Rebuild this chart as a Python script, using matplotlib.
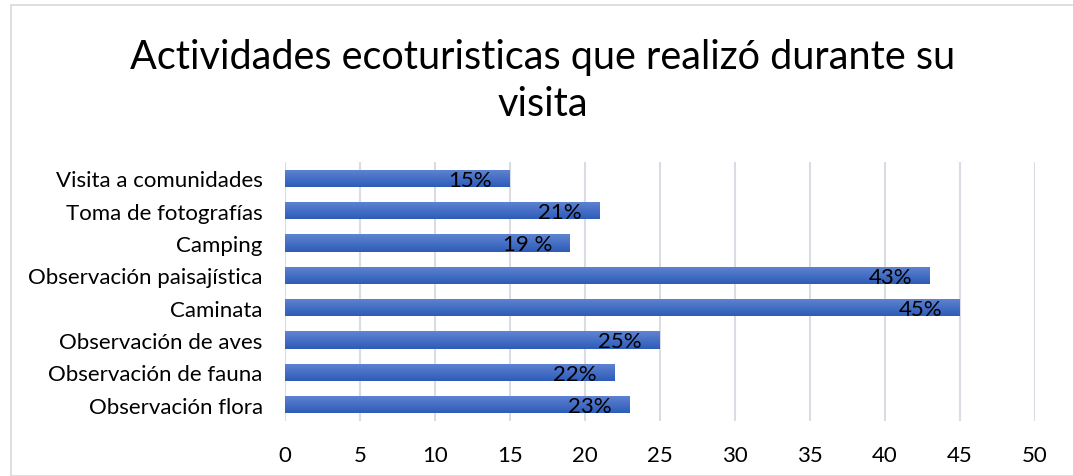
import numpy as np
import matplotlib.pyplot as plt
from matplotlib.patches import Rectangle
from matplotlib.colors import LinearSegmentedColormap

categorias = ['Observación flora', 'Observación de fauna', 'Observación de aves', 'Caminata',
              'Observación paisajística', 'Camping', 'Toma de fotografías', 'Visita a comunidades']
valores = [23, 22, 25, 45, 43, 19, 21, 15]
etiquetas = ['23%', '22%', '25%', '45%', '43%', '19 %', '21%', '15%']

plt.rcParams['font.family'] = ['Lato', 'DejaVu Sans']

fig = plt.figure(figsize=(10.73, 4.77), dpi=100)
ax = fig.add_axes([285/1073, 1-422/477, 750/1073, 259/477])

# marco del grafico
fig.patches.append(Rectangle((11/1073, 0), 1.2, 1-6/477, transform=fig.transFigure,
                             fill=False, edgecolor='#D9D9D9', linewidth=1.2))

y = np.arange(len(categorias))
alto = 0.53
cmap = LinearSegmentedColormap.from_list('azul', ['#2E5CB8', '#5F84D2'])
grad = np.linspace(0, 1, 50).reshape(-1, 1)

barras = ax.barh(y, valores, height=alto, color='#4472C4', zorder=2)
for b in barras:
    x0, y0 = b.get_x(), b.get_y()
    w, h = b.get_width(), b.get_height()
    im = ax.imshow(grad, cmap=cmap, aspect='auto', extent=(x0, x0 + w, y0, y0 + h),
                   origin='lower', zorder=3)
    im.set_clip_path(b)

for v, yy, et in zip(valores, y, etiquetas):
    ax.annotate(et, (v, yy), xytext=(-13, -1), textcoords='offset points',
                ha='right', va='center', fontsize=16, color='black', zorder=4)

ax.set_xlim(0, 50)
ax.set_ylim(-0.5, len(categorias) - 0.5)
ax.set_xticks(np.arange(0, 51, 5))
ax.set_yticks(y)
ax.set_yticklabels(categorias)
ax.tick_params(axis='both', length=0, labelsize=16)
ax.tick_params(axis='x', pad=17)
ax.tick_params(axis='y', pad=16)
ax.grid(axis='x', color='#D9DDE3', linewidth=1.5, zorder=0)
ax.set_axisbelow(True)
for s in ax.spines.values():
    s.set_visible(False)

fig.text(543/1073, 1-58/477, 'Actividades ecoturisticas que realizó durante su',
         ha='center', va='center', fontsize=28.5)
fig.text(543/1073, 1-105/477, 'visita', ha='center', va='center', fontsize=28.5)

plt.savefig('out.png', dpi=100)
